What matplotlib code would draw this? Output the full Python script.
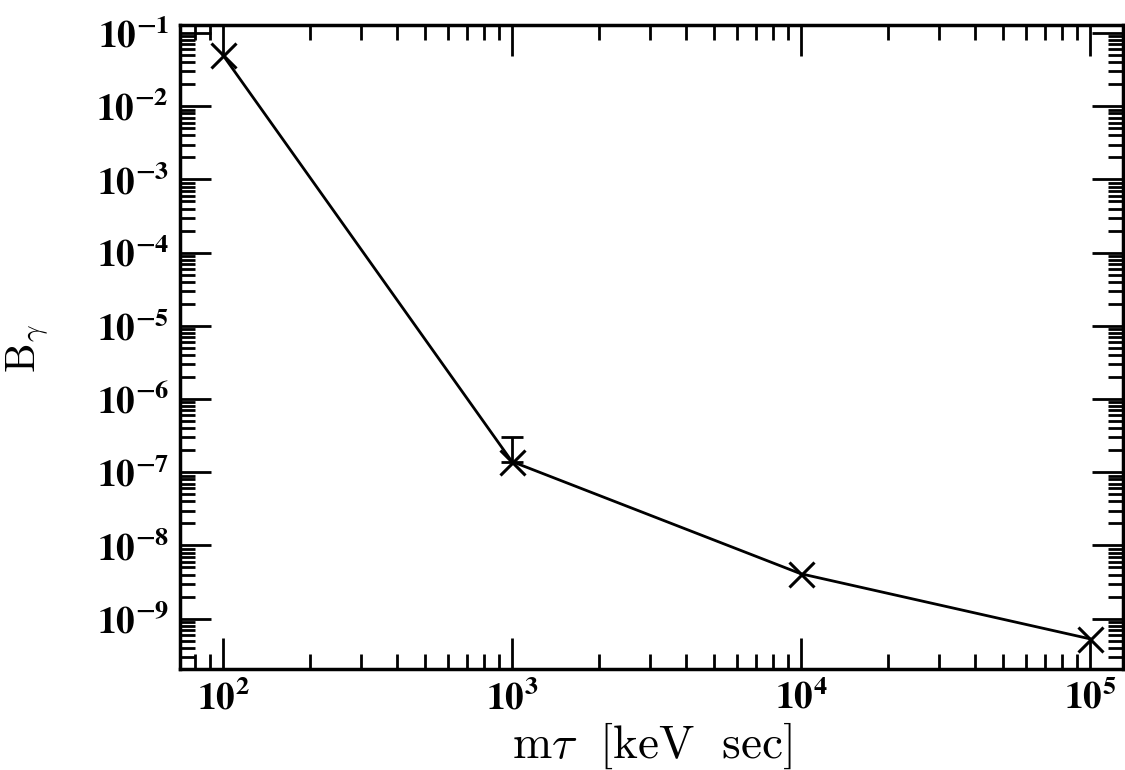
import math

import matplotlib
matplotlib.use("Agg")
import matplotlib.pyplot as plt
from matplotlib.ticker import LogLocator, FuncFormatter, NullFormatter

# bold tick numbers come from stix, axis labels stay in computer modern
plt.rcParams["mathtext.fontset"] = "stix"
plt.rcParams["font.family"] = "DejaVu Serif"

# data
m_tau = [1e2, 1e3, 1e4, 1e5]              # keV sec
b_gamma = [5.0e-2, 1.4e-7, 4.1e-9, 5.3e-10]
err_up = [0.0, 1.6e-7, 0.0, 0.0]
err_lo = [0.0, 0.0, 0.0, 0.0]

fig = plt.figure(figsize=(11.25, 7.7), dpi=100)
ax = fig.add_axes([0.160, 0.131, 0.838, 0.8365])

ax.plot(m_tau, b_gamma, color="black", lw=2.0, marker="x", ms=18, mew=2.2)
ax.errorbar(m_tau[1:2], b_gamma[1:2], yerr=[err_lo[1:2], err_up[1:2]],
            fmt="none", ecolor="black", elinewidth=2.0, capsize=8, capthick=2.0)

ax.set_xscale("log")
ax.set_yscale("log")
ax.set_xlim(71, 1.3e5)
ax.set_ylim(10 ** -9.69, 10 ** -0.89)

ax.xaxis.set_major_locator(LogLocator(base=10, numticks=20))
ax.xaxis.set_minor_locator(LogLocator(base=10, subs=range(2, 10), numticks=20))
ax.yaxis.set_major_locator(LogLocator(base=10, numticks=20))
ax.yaxis.set_minor_locator(LogLocator(base=10, subs=range(2, 10), numticks=20))

fmt = FuncFormatter(lambda v, p: r"$\mathbf{10^{%d}}$" % round(math.log10(v)))
ax.xaxis.set_major_formatter(fmt)
ax.yaxis.set_major_formatter(fmt)
ax.xaxis.set_minor_formatter(NullFormatter())
ax.yaxis.set_minor_formatter(NullFormatter())

ax.tick_params(which="both", direction="in", top=True, right=True, width=2.0)
ax.tick_params(which="major", length=22, labelsize=27, pad=8)
ax.tick_params(which="minor", length=11)
for s in ax.spines.values():
    s.set_linewidth(2.5)

ax.set_xlabel(r"$\mathrm{m}\tau\ \ [\mathrm{keV\ \ sec}]$", fontsize=34,
              labelpad=2, math_fontfamily="cm")
fig.text(0.024, 0.548, r"$\mathrm{B}_\gamma$", fontsize=30, rotation=90,
         ha="center", va="center", math_fontfamily="cm")

fig.savefig("out.png", dpi=100)
